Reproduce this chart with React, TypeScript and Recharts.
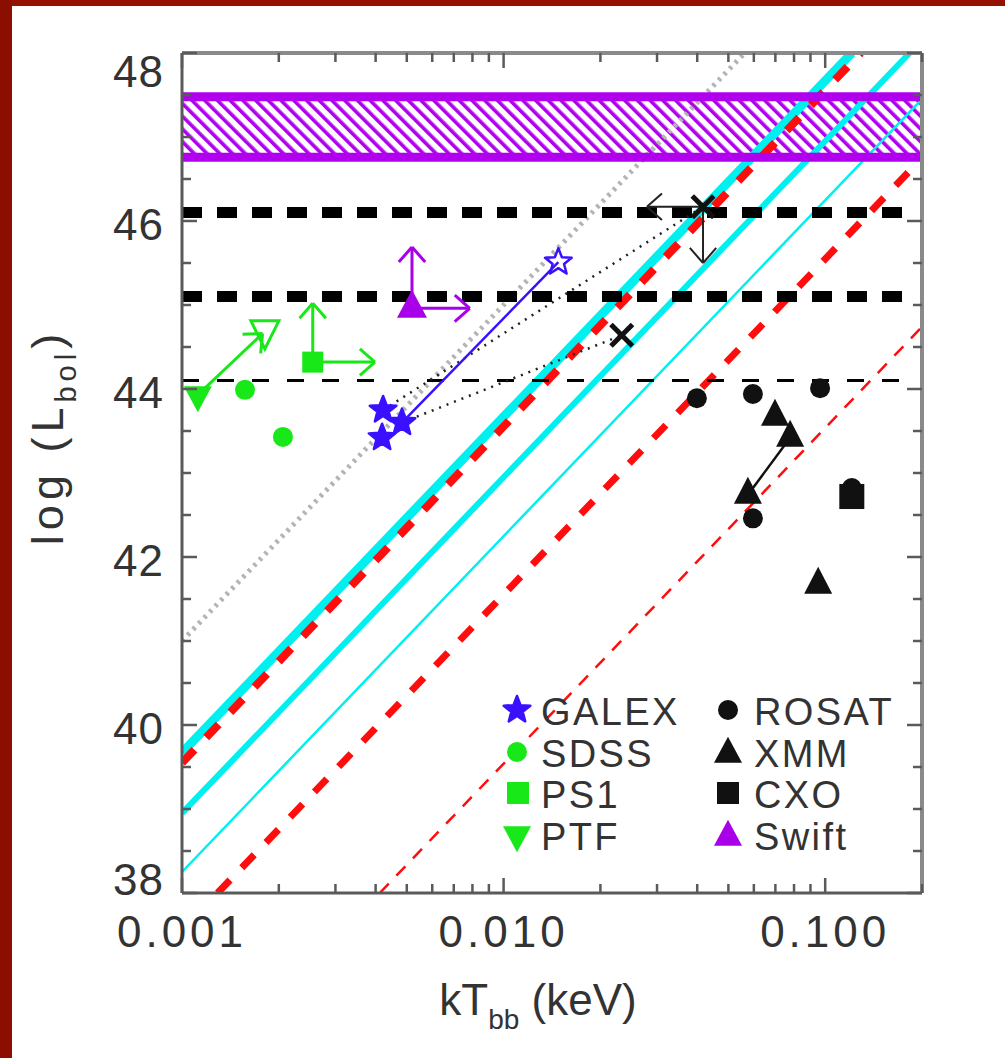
import React from "react";
import {
  ComposedChart,
  Line,
  Scatter,
  XAxis,
  YAxis,
  ReferenceArea,
  ReferenceLine,
} from "recharts";

// ---- data (kT in keV, log L_bol) ----
const GALEX = [
  { x: 0.00422, y: 43.75 },
  { x: 0.00419, y: 43.42 },
  { x: 0.00483, y: 43.6 },
];
const GALEX_OPEN = [{ x: 0.0148, y: 45.51 }];
const SDSS = [
  { x: 0.00157, y: 43.99 },
  { x: 0.00206, y: 43.43 },
];
const PS1 = [{ x: 0.00255, y: 44.32 }];
const PTF = [{ x: 0.00112, y: 43.93 }];
const PTF_OPEN = [{ x: 0.00181, y: 44.7 }];
const SWIFT = [{ x: 0.00519, y: 44.96 }];
const ROSAT = [
  { x: 0.0399, y: 43.89 },
  { x: 0.0596, y: 43.94 },
  { x: 0.0964, y: 44.01 },
  { x: 0.0596, y: 42.46 },
  { x: 0.121, y: 42.82 },
];
const XMM = [
  { x: 0.0698, y: 43.67 },
  { x: 0.0778, y: 43.42 },
  { x: 0.0575, y: 42.74 },
  { x: 0.0951, y: 41.67 },
];
const CXO = [{ x: 0.121, y: 42.72 }];
const CROSSES = [
  { x: 0.0417, y: 46.17 },
  { x: 0.0233, y: 44.64 },
];

// model lines (end points)
const GREY_DOTTED = [{ x: 0.001, y: 41.0 }, { x: 0.0562, y: 48 }];
const CYAN_THICK = [{ x: 0.001, y: 39.67 }, { x: 0.121, y: 48 }];
const RED_THICK = [{ x: 0.001, y: 39.55 }, { x: 0.129, y: 48 }];
const CYAN_MID = [{ x: 0.001, y: 38.95 }, { x: 0.183, y: 48 }];
const CYAN_THIN = [{ x: 0.001, y: 38.25 }, { x: 0.2, y: 47.45 }];
const RED_MID = [{ x: 0.00129, y: 38 }, { x: 0.2, y: 46.75 }];
const RED_THIN = [{ x: 0.00412, y: 38 }, { x: 0.2, y: 44.74 }];

// horizontal limits
const H_46 = [{ x: 0.001, y: 46.1 }, { x: 0.18, y: 46.1 }];
const H_45 = [{ x: 0.001, y: 45.1 }, { x: 0.18, y: 45.1 }];
const H_44 = [{ x: 0.001, y: 44.1 }, { x: 0.18, y: 44.1 }];
const BAND_LO = 46.76;
const BAND_HI = 47.48;

// connectors
const GALEX_LINK = [{ x: 0.00483, y: 43.6 }, { x: 0.0148, y: 45.51 }];
const DOT_LINK_A = [{ x: 0.00422, y: 43.75 }, { x: 0.0417, y: 46.17 }];
const DOT_LINK_B = [{ x: 0.00483, y: 43.6 }, { x: 0.0233, y: 44.64 }];
const XMM_LINK = [{ x: 0.0575, y: 42.74 }, { x: 0.0778, y: 43.42 }];
const PTF_ARROW = [{ x: 0.00112, y: 43.93 }, { x: 0.00178, y: 44.66 }];
const PS1_UP = [{ x: 0.00255, y: 44.32 }, { x: 0.00255, y: 45.02 }];
const PS1_RIGHT = [{ x: 0.00255, y: 44.32 }, { x: 0.00398, y: 44.32 }];
const SWIFT_UP = [{ x: 0.00519, y: 44.96 }, { x: 0.00519, y: 45.69 }];
const SWIFT_RIGHT = [{ x: 0.00519, y: 44.96 }, { x: 0.00785, y: 44.96 }];
const CROSS_LEFT = [{ x: 0.0417, y: 46.17 }, { x: 0.0279, y: 46.17 }];
const CROSS_DOWN = [{ x: 0.0417, y: 46.17 }, { x: 0.0417, y: 45.5 }];

// ticks
const X_TICKS = [
  0.001, 0.002, 0.003, 0.004, 0.005, 0.006, 0.007, 0.008, 0.009,
  0.01, 0.02, 0.03, 0.04, 0.05, 0.06, 0.07, 0.08, 0.09, 0.1, 0.2,
];
const X_MAJOR = [0.001, 0.01, 0.1];
const X_LABELS = ["0.001", "0.010", "0.100"];
const Y_TICKS = [
  38, 38.5, 39, 39.5, 40, 40.5, 41, 41.5, 42, 42.5, 43, 43.5, 44, 44.5, 45,
  45.5, 46, 46.5, 47, 47.5, 48,
];
const Y_MAJOR = [38, 40, 42, 44, 46, 48];

const LEGEND_LEFT = ["GALEX", "SDSS", "PS1", "PTF"];
const LEGEND_RIGHT = ["ROSAT", "XMM", "CXO", "Swift"];

const FONT = "'Liberation Sans', Arial, Helvetica, sans-serif";
const INK = "#333";
const FRAME = "#5a5a5a";
const BLUE = "#3a10ff";
const GREEN = "#18e818";
const PURPLE = "#a800e8";
const BAND = "#b000ee";
const CYAN = "#00f0f0";
const RED = "#ff0d0d";

// ---- marker shapes ----
function starPoints(cx: number, cy: number, R: number, r: number) {
  const pts: string[] = [];
  for (let i = 0; i < 10; i++) {
    const a = -Math.PI / 2 + (i * Math.PI) / 5;
    const rr = i % 2 === 0 ? R : r;
    pts.push(`${cx + rr * Math.cos(a)},${cy + rr * Math.sin(a)}`);
  }
  return pts.join(" ");
}

const Star = ({ cx, cy, open }: any) => (
  <polygon
    points={starPoints(cx, cy, 14, 6)}
    fill={open ? "none" : BLUE}
    stroke={BLUE}
    strokeWidth={2.5}
    strokeLinejoin="round"
  />
);
const Dot = ({ cx, cy, color, r = 10 }: any) => <circle cx={cx} cy={cy} r={r} fill={color} />;
const Square = ({ cx, cy, color, s = 22 }: any) => (
  <rect x={cx - s / 2} y={cy - s / 2} width={s} height={s} fill={color} />
);
const TriUp = ({ cx, cy, color, w = 28, h = 26 }: any) => (
  <polygon
    points={`${cx - w / 2},${cy + h / 3} ${cx + w / 2},${cy + h / 3} ${cx},${cy - (2 * h) / 3}`}
    fill={color}
  />
);
const TriDown = ({ cx, cy, color, open, w = 28, h = 26 }: any) => (
  <polygon
    points={`${cx - w / 2},${cy - h / 3} ${cx + w / 2},${cy - h / 3} ${cx},${cy + (2 * h) / 3}`}
    fill={open ? "none" : color}
    stroke={color}
    strokeWidth={open ? 3 : 0}
  />
);
const Cross = ({ cx, cy }: any) => (
  <g stroke="#111" strokeWidth={5} strokeLinecap="square">
    <line x1={cx - 9} y1={cy - 9} x2={cx + 9} y2={cy + 9} />
    <line x1={cx - 9} y1={cy + 9} x2={cx + 9} y2={cy - 9} />
  </g>
);

// arrow head drawn at the second point of a two-point line
const arrowHead = (color: string, width: number) => (p: any) => {
  const { cx, cy, index, points } = p;
  if (index !== 1 || cx == null || !points || points.length < 2) return <g key={`h${index}`} />;
  const a = Math.atan2(points[1].y - points[0].y, points[1].x - points[0].x);
  const L = 20;
  const s = 0.72;
  return (
    <g key={`h${index}`} stroke={color} strokeWidth={width} fill="none">
      <line x1={cx} y1={cy} x2={cx - L * Math.cos(a - s)} y2={cy - L * Math.sin(a - s)} />
      <line x1={cx} y1={cy} x2={cx - L * Math.cos(a + s)} y2={cy - L * Math.sin(a + s)} />
    </g>
  );
};

// ---- axis ticks (drawn inward, IDL style) ----
const tickLen = (major: boolean) => (major ? 15 : 9);

const LeftTick = ({ x, y, payload }: any) => {
  const v = payload.value;
  const major = Y_MAJOR.includes(v);
  const c = Math.min(Math.max(y + 3, 71), 879);
  return (
    <g>
      <line x1={x} x2={x + tickLen(major)} y1={y} y2={y} stroke={FRAME} strokeWidth={2.5} />
      {major && (
        <text x={x - 18} y={c + 16} textAnchor="end" fontSize={44} fontFamily={FONT} fill={INK} letterSpacing={1}>
          {v}
        </text>
      )}
    </g>
  );
};
const RightTick = ({ x, y, payload }: any) => (
  <line x1={x} x2={x - tickLen(Y_MAJOR.includes(payload.value))} y1={y} y2={y} stroke={FRAME} strokeWidth={2.5} />
);
const BottomTick = ({ x, y, payload }: any) => {
  const i = X_MAJOR.findIndex((m) => Math.abs(m - payload.value) < 1e-9);
  const major = i >= 0;
  return (
    <g>
      <line x1={x} x2={x} y1={y} y2={y - tickLen(major)} stroke={FRAME} strokeWidth={2.5} />
      {major && (
        <text x={x} y={y + 54} textAnchor="middle" fontSize={44} fontFamily={FONT} fill={INK} letterSpacing={4}>
          {X_LABELS[i]}
        </text>
      )}
    </g>
  );
};
const TopTick = ({ x, y, payload }: any) => {
  const major = X_MAJOR.some((m) => Math.abs(m - payload.value) < 1e-9);
  return <line x1={x} x2={x} y1={y} y2={y + tickLen(major)} stroke={FRAME} strokeWidth={2.5} />;
};

const XTitle = (p: any) => {
  const vb = p.viewBox || { x: 182, y: 893, width: 740 };
  return (
    <text x={vb.x + vb.width / 2 - 14} y={vb.y + 122} textAnchor="middle" fontSize={44} fontFamily={FONT} fill={INK}>
      kT
      <tspan fontSize={28} dy={14}>bb</tspan>
      <tspan dy={-14}>{"  (keV)"}</tspan>
    </text>
  );
};
const YTitle = (p: any) => {
  const vb = p.viewBox || { x: 0, y: 53, height: 840 };
  const cx = 63;
  const cy = vb.y + vb.height / 2 - 36;
  return (
    <text
      transform={`translate(${cx},${cy}) rotate(-90)`}
      textAnchor="middle"
      fontSize={45}
      fontFamily={FONT}
      fill={INK}
      letterSpacing={5}
    >
      {"log  (L"}
      <tspan fontSize={29} dy={13}>bol</tspan>
      <tspan dy={-13}>)</tspan>
    </text>
  );
};

const seg = (data: any[], color: string, width: number, dash?: string) => (
  <Line
    data={data}
    dataKey="y"
    type="linear"
    stroke={color}
    strokeWidth={width}
    strokeDasharray={dash}
    dot={false}
    activeDot={false}
    isAnimationActive={false}
    legendType="none"
  />
);
const arrow = (data: any[], color: string, width: number) => (
  <Line
    data={data}
    dataKey="y"
    type="linear"
    stroke={color}
    strokeWidth={width}
    dot={arrowHead(color, width)}
    activeDot={false}
    isAnimationActive={false}
    legendType="none"
  />
);

function Legend() {
  const rows = [725, 767, 808, 850];
  const leftSym = [
    (cy: number) => <Star cx={517} cy={cy} />,
    (cy: number) => <Dot cx={517} cy={cy} color={GREEN} r={10} />,
    (cy: number) => <Square cx={518} cy={cy} color={GREEN} s={22} />,
    (cy: number) => <TriDown cx={517} cy={cy} color={GREEN} />,
  ];
  const rightSym = [
    (cy: number) => <Dot cx={728} cy={cy} color="#111" r={10} />,
    (cy: number) => <TriUp cx={728} cy={cy + 2} color="#111" />,
    (cy: number) => <Square cx={728} cy={cy} color="#111" s={22} />,
    (cy: number) => <TriUp cx={728} cy={cy + 2} color={PURPLE} />,
  ];
  return (
    <svg width={1005} height={1058} style={{ position: "absolute", left: 0, top: 0, pointerEvents: "none" }}>
      {rows.map((b, i) => (
        <g key={i}>
          {leftSym[i](b - 15)}
          <text x={541} y={b} fontSize={38} fontFamily={FONT} fill={INK} letterSpacing={2.4}>{LEGEND_LEFT[i]}</text>
          {rightSym[i](b - 15)}
          <text x={754} y={b} fontSize={38} fontFamily={FONT} fill={INK} letterSpacing={2.4}>{LEGEND_RIGHT[i]}</text>
        </g>
      ))}
    </svg>
  );
}

export default function App() {
  return (
    <div style={{ position: "absolute", left: 0, top: 0, width: 1005, height: 1058, background: "#fff", overflow: "hidden" }}>
      <div style={{ position: "absolute", left: 0, top: 0, width: 1005, height: 6, background: "#961000" }} />
      <div style={{ position: "absolute", left: 0, top: 0, width: 12, height: 1058, background: "#8c0e00" }} />
      <div style={{ position: "absolute", left: 0, top: 0 }}>
        <ComposedChart width={1005} height={1058} margin={{ top: 0, right: 0, bottom: 0, left: 0 }}>
          <defs>
            <pattern id="hatch" patternUnits="userSpaceOnUse" width={9} height={9} patternTransform="rotate(-45)">
              <rect x={0} y={0} width={3.6} height={9} fill={BAND} />
            </pattern>
          </defs>
          <XAxis
            dataKey="x"
            type="number"
            scale="log"
            domain={[0.001, 0.2]}
            allowDataOverflow
            ticks={X_TICKS}
            interval={0}
            tickSize={0}
            tickMargin={0}
            tick={<BottomTick />}
            height={165}
            axisLine={{ stroke: FRAME, strokeWidth: 3 }}
            label={(p: any) => <XTitle {...p} />}
          />
          <XAxis
            xAxisId="top"
            orientation="top"
            dataKey="x"
            type="number"
            scale="log"
            domain={[0.001, 0.2]}
            allowDataOverflow
            ticks={X_TICKS}
            interval={0}
            tickSize={0}
            tickMargin={0}
            tick={<TopTick />}
            height={53}
            axisLine={{ stroke: "#8a8a8a", strokeWidth: 4 }}
          />
          <YAxis
            type="number"
            domain={[38, 48]}
            allowDataOverflow
            ticks={Y_TICKS}
            interval={0}
            tickSize={0}
            tickMargin={0}
            tick={<LeftTick />}
            width={182}
            axisLine={{ stroke: FRAME, strokeWidth: 3 }}
            label={(p: any) => <YTitle {...p} />}
          />
          <YAxis
            yAxisId="right"
            orientation="right"
            type="number"
            domain={[38, 48]}
            allowDataOverflow
            ticks={Y_TICKS}
            interval={0}
            tickSize={0}
            tickMargin={0}
            tick={<RightTick />}
            width={83}
            axisLine={{ stroke: "#8a8a8a", strokeWidth: 4 }}
          />

          {seg(GREY_DOTTED, "#b4b4b4", 5, "3 5")}
          {seg(CYAN_THICK, CYAN, 9)}
          {seg(RED_THICK, RED, 8, "18 17")}
          {seg(CYAN_MID, CYAN, 6)}
          {seg(CYAN_THIN, CYAN, 2.5)}
          {seg(RED_MID, RED, 7, "18 17")}
          {seg(RED_THIN, RED, 2.5, "13 11")}

          <ReferenceArea y1={BAND_LO} y2={BAND_HI} fill="url(#hatch)" fillOpacity={1} stroke="none" ifOverflow="visible" />
          <ReferenceLine y={BAND_HI} stroke={BAND} strokeWidth={9} />
          <ReferenceLine y={BAND_LO} stroke={BAND} strokeWidth={9} />

          {seg(H_46, "#000", 11, "20 15")}
          {seg(H_45, "#000", 11, "20 15")}
          {seg(H_44, "#000", 3, "17 18")}

          {seg(DOT_LINK_A, "#222", 2.5, "2 6")}
          {seg(DOT_LINK_B, "#222", 2.5, "2 6")}
          {seg(GALEX_LINK, BLUE, 2.5)}
          {seg(XMM_LINK, "#111", 2.5)}
          {arrow(PTF_ARROW, GREEN, 3)}
          {arrow(PS1_UP, GREEN, 3)}
          {arrow(PS1_RIGHT, GREEN, 3)}
          {arrow(SWIFT_UP, PURPLE, 3)}
          {arrow(SWIFT_RIGHT, PURPLE, 3)}
          {arrow(CROSS_LEFT, "#222", 2)}
          {arrow(CROSS_DOWN, "#222", 2)}

          <Scatter data={GALEX} dataKey="y" isAnimationActive={false} shape={(p: any) => <Star cx={p.cx} cy={p.cy} />} />
          <Scatter data={GALEX_OPEN} dataKey="y" isAnimationActive={false} shape={(p: any) => <Star cx={p.cx} cy={p.cy} open />} />
          <Scatter data={SDSS} dataKey="y" isAnimationActive={false} shape={(p: any) => <Dot cx={p.cx} cy={p.cy} color={GREEN} />} />
          <Scatter data={PS1} dataKey="y" isAnimationActive={false} shape={(p: any) => <Square cx={p.cx} cy={p.cy} color={GREEN} s={21} />} />
          <Scatter data={PTF} dataKey="y" isAnimationActive={false} shape={(p: any) => <TriDown cx={p.cx} cy={p.cy} color={GREEN} />} />
          <Scatter data={PTF_OPEN} dataKey="y" isAnimationActive={false} shape={(p: any) => <TriDown cx={p.cx} cy={p.cy} color={GREEN} open w={28} h={28} />} />
          <Scatter data={SWIFT} dataKey="y" isAnimationActive={false} shape={(p: any) => <TriUp cx={p.cx} cy={p.cy} color={PURPLE} w={30} h={28} />} />
          <Scatter data={CXO} dataKey="y" isAnimationActive={false} shape={(p: any) => <Square cx={p.cx} cy={p.cy} color="#111" s={25} />} />
          <Scatter data={ROSAT} dataKey="y" isAnimationActive={false} shape={(p: any) => <Dot cx={p.cx} cy={p.cy} color="#111" r={10} />} />
          <Scatter data={XMM} dataKey="y" isAnimationActive={false} shape={(p: any) => <TriUp cx={p.cx} cy={p.cy} color="#111" w={28} h={27} />} />
          <Scatter data={CROSSES} dataKey="y" isAnimationActive={false} shape={(p: any) => <Cross cx={p.cx} cy={p.cy} />} />
        </ComposedChart>
      </div>
      <Legend />
    </div>
  );
}
